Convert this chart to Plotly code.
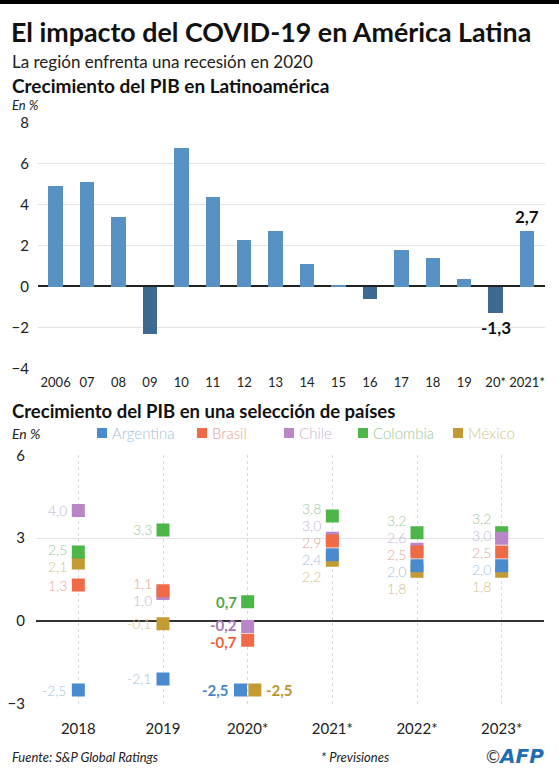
import plotly.graph_objects as go

W, H = 559, 768
FONT = "Lato"

# ---------------- data ----------------
years_top = ["2006", "07", "08", "09", "10", "11", "12", "13", "14", "15",
             "16", "17", "18", "19", "20*", "2021*"]
gdp_latam = [4.9, 5.1, 3.4, -2.3, 6.8, 4.4, 2.3, 2.7, 1.1, 0.1,
             -0.6, 1.8, 1.4, 0.4, -1.3, 2.7]
labeled_top = ["20*", "2021*"]

years_bot = ["2018", "2019", "2020*", "2021*", "2022*", "2023*"]
highlight_year = "2020*"
countries = ["Argentina", "Brasil", "Chile", "Colombia", "México"]
argentina = [-2.5, -2.1, -2.5, 2.4, 2.0, 2.0]
brasil = [1.3, 1.1, -0.7, 2.9, 2.5, 2.5]
chile = [4.0, 1.0, -0.2, 3.0, 2.6, 3.0]
colombia = [2.5, 3.3, 0.7, 3.8, 3.2, 3.2]
mexico = [2.1, -0.1, -2.5, 2.2, 1.8, 1.8]
series = {"Argentina": argentina, "Brasil": brasil, "Chile": chile,
          "Colombia": colombia, "México": mexico}

# ---------------- styles ----------------
col_main = {"Argentina": "#4a8bd0", "Brasil": "#f06a46", "Chile": "#b986c7",
            "Colombia": "#4db648", "México": "#c39b32"}
col_light = {"Argentina": "#a3bfdb", "Brasil": "#e2a696", "Chile": "#c7b3d1",
             "Colombia": "#9dc79a", "México": "#d3bf86"}
col_bold = {"Argentina": "#4a86c5", "Brasil": "#e8643e", "Chile": "#a874b8",
            "Colombia": "#56a84a", "México": "#b8962c"}
draw_order = ["México", "Colombia", "Chile", "Brasil", "Argentina"]

def px(x):
    return x / W

def py(y):
    return 1 - y / H

fig = go.Figure()

# ---------------- top bar chart ----------------
bar_colors = ["#3e6a91" if v < 0 else "#5891c4" for v in gdp_latam]
fig.add_trace(go.Bar(x=list(range(len(years_top))), y=gdp_latam,
                     marker=dict(color=bar_colors, line=dict(width=0)),
                     width=0.46, xaxis="x", yaxis="y", showlegend=False,
                     hoverinfo="y"))

def fmt(v):
    return f"{v:.1f}".replace(".", ",")

annotations = []
for lab in labeled_top:
    i = years_top.index(lab)
    v = gdp_latam[i]
    annotations.append(dict(x=i, y=v, xref="x", yref="y", text=fmt(v),
                            showarrow=False, yanchor="bottom" if v >= 0 else "top",
                            yshift=2 if v >= 0 else -2,
                            font=dict(family=FONT, size=17, color="#111", weight="bold")))

# ---------------- bottom scatter chart ----------------
def dodge(vals, gap):
    idx = sorted(range(len(vals)), key=lambda i: -vals[i])
    clusters = []
    for i in idx:
        clusters.append([vals[i], [i]])
        while len(clusters) > 1:
            c1, c2 = clusters[-2], clusters[-1]
            n1, n2 = len(c1[1]), len(c2[1])
            if (c1[0] - (n1 - 1) / 2 * gap) - (c2[0] + (n2 - 1) / 2 * gap) < gap:
                mem = c1[1] + c2[1]
                clusters[-2:] = [[sum(vals[m] for m in mem) / len(mem), mem]]
            else:
                break
    out = [0.0] * len(vals)
    for c, mem in clusters:
        n = len(mem)
        for k, m in enumerate(mem):
            out[m] = c + ((n - 1) / 2 - k) * gap
    return out

unit_px = 27.6          # pixels per percentage point on bottom axis
label_gap = 17 / unit_px
x_off = 0.085

xpos = {c: [float(j) for j in range(len(years_bot))] for c in countries}
side = {c: ["left"] * len(years_bot) for c in countries}
for j in range(len(years_bot)):
    groups = {}
    for c in countries:
        groups.setdefault(series[c][j], []).append(c)
    for v, cs in groups.items():
        if len(cs) == 2:
            xpos[cs[0]][j] -= x_off
            xpos[cs[1]][j] += x_off
            side[cs[1]][j] = "right"

for c in draw_order:
    fig.add_trace(go.Scatter(x=xpos[c], y=series[c], mode="markers", name=c,
                             marker=dict(symbol="square", size=13, color=col_main[c],
                                         line=dict(width=0)),
                             xaxis="x2", yaxis="y2", showlegend=False))

for j, yr in enumerate(years_bot):
    left = [c for c in countries if side[c][j] == "left"]
    ly = dodge([series[c][j] for c in left], label_gap)
    lab_y = dict(zip(left, ly))
    for c in countries:
        if side[c][j] == "right":
            lab_y[c] = series[c][j]
    for c in countries:
        v = series[c][j]
        hl = (yr == highlight_year)
        right = side[c][j] == "right"
        annotations.append(dict(
            x=xpos[c][j], y=lab_y[c], xref="x2", yref="y2", text=fmt(v),
            showarrow=False, xanchor="left" if right else "right",
            xshift=10 if right else -10, borderpad=0,
            font=dict(family=FONT, size=14 if not hl else 15,
                      color=col_bold[c] if hl else col_light[c],
                      weight="bold" if hl else 300)))

# ---------------- manual legend ----------------
shapes = [dict(type="rect", xref="paper", yref="paper", x0=0, x1=1,
               y0=py(4), y1=1, fillcolor="#000", line=dict(width=0), layer="above")]
legend_x = [97, 197, 284, 358, 453]
legend_y = 433
for c, lx in zip(countries, legend_x):
    shapes.append(dict(type="rect", xref="paper", yref="paper",
                       x0=px(lx), x1=px(lx + 10), y0=py(legend_y + 5), y1=py(legend_y - 5),
                       fillcolor=col_main[c], line=dict(width=0)))
    annotations.append(dict(x=px(lx + 13), y=py(legend_y), xref="paper", yref="paper",
                            text=c, showarrow=False, xanchor="left", yanchor="middle",
                            font=dict(family=FONT, size=15, color=col_light[c], weight=300)))

# ---------------- titles / texts ----------------
def txt(x, y, s, size, color="#111", weight="normal", style="normal", anchor="left"):
    annotations.append(dict(x=px(x), y=py(y), xref="paper", yref="paper", text=s,
                            showarrow=False, xanchor=anchor, yanchor="middle",
                            borderpad=0,
                            font=dict(family=FONT, size=size, color=color,
                                      weight=weight, style=style)))

txt(10, 32, "El impacto del COVID-19 en América Latina", 26.8, weight="bold")
txt(11, 61, "La región enfrenta una recesión en 2020", 17, color="#222")
txt(11, 85.5, "Crecimiento del PIB en Latinoamérica", 19, weight="bold")
txt(11, 104.5, "En %", 13, color="#222", style="italic")
txt(11, 411, "Crecimiento del PIB en una selección de países", 18.5, weight="bold")
txt(11, 433, "En %", 14, color="#222", style="italic")
txt(11, 757, "Fuente: S&P Global Ratings", 13, color="#222", style="italic")
txt(355, 757, "* Previsiones", 13, color="#222", style="italic", anchor="center")
txt(501, 756, "©", 17, color="#444", anchor="right")
annotations.append(dict(x=px(546), y=py(756), xref="paper", yref="paper",
                        text="AFP", showarrow=False, xanchor="right", yanchor="middle",
                        font=dict(family="DejaVu Sans", size=20, color="#1f6db5",
                                  weight="bold", style="italic")))

# ---------------- layout ----------------
top_y0, top_y1 = 368.3, 122.7
bot_y0, bot_y1 = 703.8, 703.8 - 9 * unit_px

fig.update_layout(
    template="none",
    width=W, height=H, margin=dict(l=0, r=0, t=0, b=0, pad=0, autoexpand=False),
    paper_bgcolor="white", plot_bgcolor="white",
    font=dict(family=FONT, color="#222"),
    bargap=0,
    xaxis=dict(domain=[px(38), px(545)], range=[-0.56, 15.57],
               tickmode="array", tickvals=list(range(len(years_top))), ticktext=years_top,
               tickangle=0, automargin=False,
               showgrid=False, zeroline=False, showline=False, ticks="",
               tickfont=dict(size=13, color="#222"), ticklabelstandoff=5,
               anchor="y", fixedrange=True),
    yaxis=dict(domain=[py(top_y0), py(top_y1)], range=[-4, 8], automargin=False,
               tickmode="array", tickvals=[-4, -2, 0, 2, 4, 6, 8],
               showgrid=True, gridcolor="#e3e3e3",
               gridwidth=1, zeroline=True, zerolinecolor="#222", zerolinewidth=1.5,
               showline=False, ticks="", tickfont=dict(size=15, color="#222"),
               ticklabelstandoff=8, anchor="x", fixedrange=True),
    xaxis2=dict(domain=[px(36), px(544)], range=[-0.5, 5.5],
                tickmode="array", tickvals=list(range(len(years_bot))), ticktext=years_bot,
                tickangle=0, automargin=False,
                showgrid=True, gridcolor="#d9d9d9", griddash="dot", gridwidth=1,
                zeroline=False, showline=False, ticks="",
                tickfont=dict(size=15, color="#222"), ticklabelstandoff=14,
                anchor="y2", fixedrange=True),
    yaxis2=dict(domain=[py(bot_y0), py(bot_y1)], range=[-3, 6], automargin=False,
                tickmode="array", tickvals=[-3, 0, 3, 6], showgrid=True, gridcolor="#e3e3e3",
                zeroline=True, zerolinecolor="#333", zerolinewidth=1.5,
                showline=False, ticks="", tickfont=dict(size=15, color="#222"),
                ticklabelstandoff=10, anchor="x2", fixedrange=True),
    annotations=annotations, shapes=shapes, showlegend=False,
)

fig.write_html("out.html")
